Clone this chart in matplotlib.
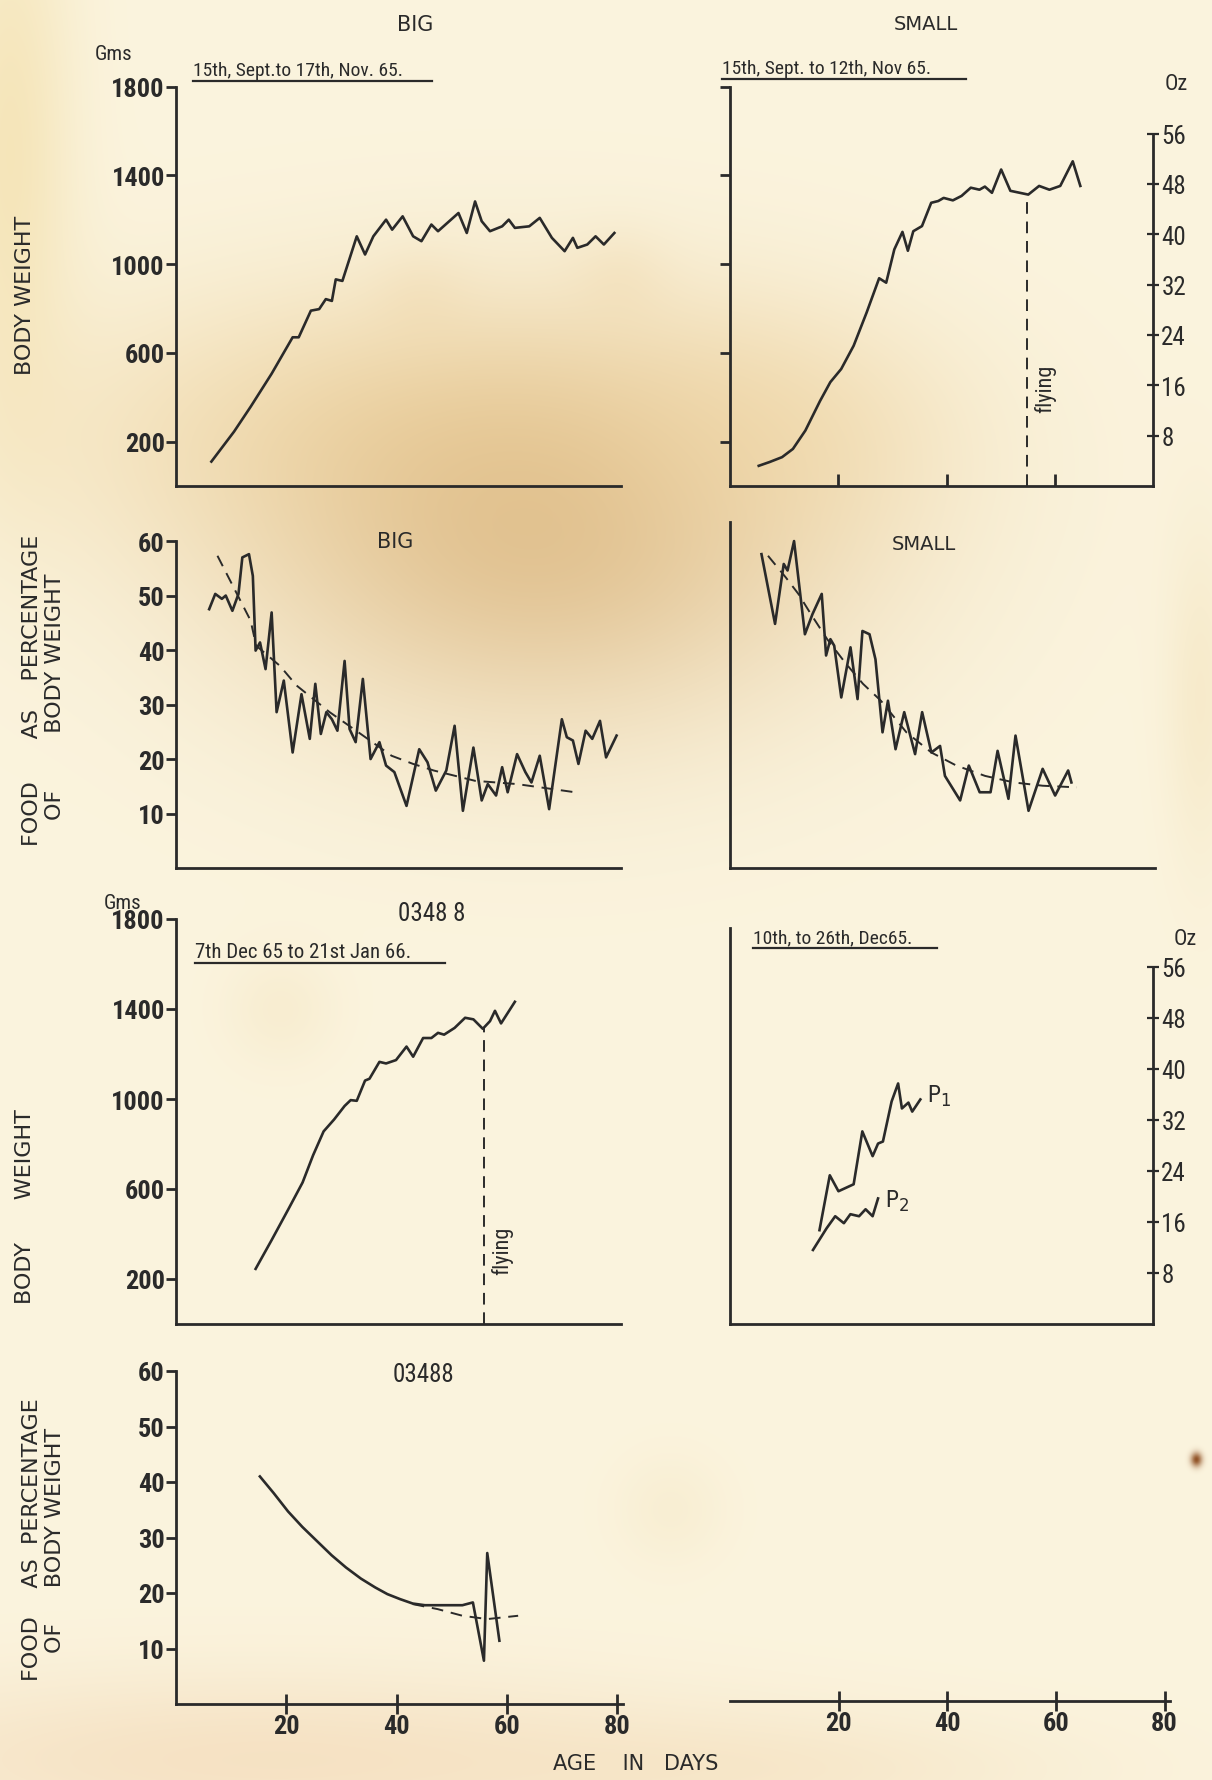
import numpy as np
import matplotlib
matplotlib.use("Agg")
import matplotlib.pyplot as plt
from matplotlib.lines import Line2D
from matplotlib import font_manager

# ---- data ----
# body weight, "big" chick (gms)
bw_big_day = [6.4, 10.5, 13.5, 17.3, 21.1, 22.2, 24.4, 25.9, 27.1, 28.2, 28.9, 30.1, 32.7, 34.2,
              35.7, 38.0, 39.1, 41.0, 42.9, 44.4, 46.2, 47.4, 51.1, 52.6, 54.1, 55.3, 56.8, 59.0,
              60.2, 61.3, 63.9, 65.8, 68.0, 70.3, 71.8, 72.6, 74.4, 75.9, 77.4, 79.3]
bw_big_g = [110, 245, 357, 506, 670, 670, 790, 797, 842, 834, 931, 924, 1125, 1043,
            1125, 1200, 1155, 1215, 1125, 1103, 1178, 1148, 1230, 1140, 1282, 1193, 1148, 1170,
            1200, 1163, 1170, 1208, 1118, 1058, 1118, 1073, 1088, 1125, 1088, 1140]

# body weight, "small" chick (gms)
bw_small_day = [5.3, 7.3, 9.6, 11.6, 13.9, 16.6, 18.5, 20.5, 22.8, 25.2, 27.5, 28.8, 30.3, 31.8,
                32.8, 33.8, 35.4, 37.1, 38.4, 39.4, 41.1, 42.7, 44.4, 46.0, 47.0, 48.3, 50.0,
                51.7, 55.0, 57.0, 58.9, 60.9, 63.2, 64.6]
bw_small_g = [91, 108, 130, 167, 250, 383, 468, 527, 632, 782, 936, 916, 1066, 1145,
              1060, 1148, 1171, 1276, 1284, 1298, 1287, 1307, 1344, 1335, 1349, 1321, 1426,
              1330, 1313, 1352, 1335, 1352, 1463, 1352]
flying_small = 54.8

# food as % of body weight, big
fd_big_day = [6.0, 7.1, 8.3, 9.0, 10.2, 11.3, 12.0, 13.2, 13.9, 14.4, 15.2, 16.2, 17.3, 18.2,
              19.5, 21.1, 22.7, 24.2, 25.2, 26.2, 27.2, 28.2, 29.2, 30.5, 31.4, 32.5, 33.8,
              35.2, 36.8, 38.0, 39.5, 41.7, 44.0, 45.5, 47.0, 48.9, 50.4, 51.9, 53.8, 55.3,
              56.4, 57.9, 59.0, 60.0, 61.7, 63.2, 64.3, 65.8, 67.5, 69.8, 70.7, 71.8, 72.8,
              74.1, 75.3, 76.7, 77.8, 79.7]
fd_big_pct = [47.5, 50.3, 49.4, 50.0, 47.2, 50.3, 57.0, 57.6, 53.6, 39.9, 41.4, 36.5, 46.9, 28.6,
              34.4, 21.2, 31.9, 23.7, 33.8, 24.6, 28.6, 27.3, 25.2, 38.0, 25.5, 23.1, 34.7,
              20.0, 23.1, 18.8, 17.6, 11.4, 21.8, 19.4, 14.2, 17.9, 26.1, 10.5, 22.1, 12.4,
              15.4, 13.3, 18.5, 13.9, 20.9, 17.6, 15.7, 20.6, 10.8, 27.3, 24.0, 23.4, 19.1,
              25.2, 23.7, 27.0, 20.3, 24.3]
fd_big_trend_day = [7.5, 13.5, 14.5, 18.8, 21.8, 27.8, 33.0, 39.0, 42.9, 46.6, 54.1, 61.7, 72.2]
fd_big_trend_pct = [57.3, 45.4, 40.8, 37.1, 33.5, 28.6, 24.9, 20.6, 19.1, 17.9, 16.0, 15.4, 13.9]

# food as % of body weight, small
fd_small_day = [5.8, 8.3, 9.9, 10.6, 11.8, 13.8, 15.2, 16.9, 17.7, 18.5, 19.2, 20.5, 22.2, 23.5,
                24.4, 25.7, 26.8, 28.1, 29.1, 30.5, 32.1, 34.1, 35.4, 37.1, 38.7, 39.6, 42.4,
                44.0, 46.0, 48.0, 49.3, 51.3, 52.6, 55.0, 57.6, 59.9, 62.3, 62.9]
fd_small_pct = [57.6, 44.8, 55.8, 54.6, 60.0, 42.9, 46.6, 50.3, 39.0, 42.0, 40.8, 31.3, 40.5, 31.0,
                43.5, 42.9, 38.3, 24.9, 30.7, 21.8, 28.6, 20.9, 28.6, 21.2, 22.4, 16.9, 12.4,
                18.8, 13.9, 13.9, 21.5, 12.7, 24.3, 10.5, 18.2, 13.3, 17.9, 15.7]
fd_small_trend_day = [7.0, 10.3, 12.6, 14.9, 17.9, 21.2, 24.5, 27.8, 32.5, 37.1, 41.7, 47.0,
                      52.3, 57.6, 63.9]
fd_small_trend_pct = [57.3, 53.3, 50.3, 46.6, 42.0, 37.7, 33.8, 30.7, 24.9, 21.2, 18.8, 16.9,
                      15.7, 15.1, 14.8]

# body weight, bird 03488 (gms)
bw_03488_day = [14.4, 17.3, 20.3, 22.9, 24.8, 26.7, 28.6, 30.5, 31.6, 32.7, 34.2, 35.0, 36.8,
                38.0, 39.8, 41.7, 42.9, 44.7, 46.2, 47.4, 48.5, 50.4, 52.3, 53.8, 55.5, 56.8,
                57.7, 58.8, 61.3]
bw_03488_g = [245, 373, 509, 629, 750, 856, 909, 969, 995, 992, 1082, 1090, 1165,
              1158, 1173, 1233, 1188, 1271, 1271, 1294, 1286, 1316, 1361, 1354, 1312, 1346,
              1392, 1336, 1432]
flying_03488 = 55.8

# P1 / P2 (gms)
p1_day = [16.5, 18.4, 20.0, 22.8, 24.4, 26.3, 27.3, 28.2, 29.8, 31.0, 31.7, 32.9, 33.6, 35.1]
p1_g = [417, 661, 590, 621, 856, 746, 802, 811, 989, 1069, 958, 984, 944, 998]
p2_day = [15.3, 17.8, 19.4, 21.0, 22.2, 23.8, 25.0, 26.3, 27.3]
p2_g = [329, 425, 479, 448, 488, 479, 510, 479, 558]

# food as % of body weight, 03488
fd_03488_day = [15.2, 17.7, 20.3, 22.9, 25.6, 28.2, 30.8, 33.5, 36.1, 38.3, 40.6, 42.9, 45.1,
                47.4, 51.9, 53.8, 55.8, 56.4, 58.6]
fd_03488_pct = [41.0, 38.0, 34.7, 31.9, 29.3, 26.8, 24.6, 22.6, 21.0, 19.8, 18.9, 18.1, 17.8,
                17.8, 17.8, 18.3, 7.8, 27.2, 11.4]
fd_03488_trend_day = [42.9, 47.4, 51.9, 56.4, 62.0]
fd_03488_trend_pct = [18.0, 17.1, 15.9, 15.3, 15.9]

g_ticks = [200, 600, 1000, 1400, 1800]
pct_ticks = [10, 20, 30, 40, 50, 60]
oz_ticks = [8, 16, 24, 32, 40, 48, 56]
day_ticks = [20, 40, 60, 80]

# ---- fonts ----
avail = {f.name for f in font_manager.fontManager.ttflist}
narrow = next((n for n in ["Liberation Sans Narrow", "DejaVu Sans Condensed", "Roboto Condensed"]
               if n in avail), None)
if narrow:
    NARROW = [narrow, "DejaVu Sans"]
    TS = 19
else:
    NARROW = ["Liberation Sans", "DejaVu Sans"]
    TS = 16.5
SANS = ["DejaVu Sans"]
plt.rcParams["font.family"] = NARROW

# ---- figure ----
W, H = 1212, 1781
INK = "#2a2a2a"
fig = plt.figure(figsize=(W / 100, H / 100), dpi=100)

# aged paper background
yy, xx = np.mgrid[0:H, 0:W]
img = np.ones((H, W, 3)) * np.array([251, 244, 222]) / 255


def stain(cx, cy, sx, sy, color, strength):
    w = strength * np.exp(-(((xx - cx) / sx) ** 2 + ((yy - cy) / sy) ** 2) / 2)
    img[:] = img * (1 - w[..., None]) + np.array(color) / 255 * w[..., None]


stain(420, 430, 280, 100, (238, 208, 150), 0.55)
stain(540, 545, 210, 135, (212, 170, 110), 0.62)
stain(780, 430, 110, 80, (240, 212, 160), 0.4)
stain(10, 150, 45, 200, (240, 215, 150), 0.5)
stain(420, 300, 35, 35, (240, 215, 170), 0.3)
stain(620, 280, 35, 35, (240, 215, 170), 0.3)
stain(280, 1010, 40, 40, (242, 222, 180), 0.3)
stain(670, 1510, 40, 40, (242, 222, 180), 0.25)
stain(250, 1760, 320, 60, (240, 205, 165), 0.45)
stain(760, 1770, 220, 40, (242, 215, 175), 0.35)
stain(1200, 700, 25, 120, (240, 218, 170), 0.35)
stain(1196, 1460, 4, 5, (140, 75, 30), 0.95)

ax_bg = fig.add_axes([0, 0, 1, 1], zorder=-5)
ax_bg.imshow(img, extent=[0, W, H, 0], aspect="auto")
ax_bg.axis("off")


def panel(x0, top, x1, bot, xmax, ymax, left=True):
    ax = fig.add_axes([x0 / W, 1 - bot / H, (x1 - x0) / W, (bot - top) / H])
    ax.set_xlim(0, xmax)
    ax.set_ylim(0, ymax)
    ax.patch.set_visible(False)
    for s in ["top", "right"]:
        ax.spines[s].set_visible(False)
    ax.spines["left"].set_visible(left)
    for s in ["left", "bottom"]:
        ax.spines[s].set_linewidth(2)
        ax.spines[s].set_color(INK)
    ax.set_xticks([])
    ax.set_yticks([])
    ax.tick_params(colors=INK, width=2, labelsize=TS, pad=1)
    return ax


def bold_ticks(ax):
    for t in ax.get_xticklabels() + ax.get_yticklabels():
        t.set_fontweight("bold")


def oz_axis(ax):
    sec = ax.secondary_yaxis("right", functions=(lambda g: g / 28.35, lambda o: o * 28.35))
    sec.spines["right"].set_bounds(0, 56)
    sec.spines["right"].set_linewidth(2)
    sec.spines["right"].set_color(INK)
    sec.set_yticks(oz_ticks)
    sec.tick_params(direction="inout", length=8, width=1.6, colors=INK, labelsize=TS - 1, pad=2)


def ftext(x, y, s, **kw):
    fig.text(x / W, 1 - y / H, s, color=INK, **kw)


def fline(x0, x1, y):
    fig.add_artist(Line2D([x0 / W, x1 / W], [1 - y / H] * 2, transform=fig.transFigure,
                          color=INK, lw=1.6))


lw = 1.9
dash = dict(color=INK, lw=1.4, dashes=(6, 4))
vdash = dict(color=INK, lw=1.4, linestyles=(0, (6, 4)))

# row 1 left: body weight big
ax = panel(176, 87.5, 621, 487, 80.5, 1800)
ax.set_yticks(g_ticks)
ax.tick_params(axis="y", direction="out", length=7)
bold_ticks(ax)
ax.plot(bw_big_day, bw_big_g, color=INK, lw=lw)

# row 1 right: body weight small
ax = panel(730, 87.5, 1153, 487, 78, 1800)
ax.set_yticks(g_ticks)
ax.set_yticklabels([])
ax.set_xticks(day_ticks[:3])
ax.set_xticklabels([])
ax.tick_params(axis="y", direction="out", length=7)
ax.tick_params(axis="x", direction="in", length=9)
ax.plot(bw_small_day, bw_small_g, color=INK, lw=lw)
ax.vlines(flying_small, 0, np.interp(flying_small, bw_small_day, bw_small_g), **vdash)
ax.text(flying_small + 1.2, 440, "flying", rotation=90, fontsize=16, color=INK,
        ha="left", va="center")
oz_axis(ax)

# row 2 left: food big
ax = panel(176, 523, 621, 869, 80.5, 63.5)
ax.spines["left"].set_bounds(0, 60)
ax.set_yticks(pct_ticks)
ax.tick_params(axis="y", direction="out", length=7)
bold_ticks(ax)
ax.plot(fd_big_day, fd_big_pct, color=INK, lw=lw)
ax.plot(fd_big_trend_day, fd_big_trend_pct, **dash)

# row 2 right: food small
ax = panel(730, 523, 1155, 869, 78.3, 63.5)
ax.plot(fd_small_day, fd_small_pct, color=INK, lw=lw)
ax.plot(fd_small_trend_day, fd_small_trend_pct, **dash)

# row 3 left: body weight 03488
ax = panel(176, 920, 621, 1325, 80.5, 1800)
ax.set_yticks(g_ticks)
ax.tick_params(axis="y", direction="out", length=7)
bold_ticks(ax)
ax.plot(bw_03488_day, bw_03488_g, color=INK, lw=lw)
ax.vlines(flying_03488, 0, np.interp(flying_03488, bw_03488_day, bw_03488_g), **vdash)
ax.text(flying_03488 + 1.3, 330, "flying", rotation=90, fontsize=16, color=INK,
        ha="left", va="center")

# row 3 right: P1 / P2
ax = panel(730, 920, 1153, 1325, 78, 1800)
ax.spines["left"].set_bounds(0, 1760)
ax.plot(p1_day, p1_g, color=INK, lw=lw)
ax.plot(p2_day, p2_g, color=INK, lw=lw)
ax.text(p1_day[-1] + 1.3, p1_g[-1] + 20, "P$_1$", fontsize=17, color=INK, va="center")
ax.text(p2_day[-1] + 1.3, p2_g[-1] - 10, "P$_2$", fontsize=17, color=INK, va="center")
oz_axis(ax)

# row 4 left: food 03488
ax = panel(176, 1372, 623, 1705, 81, 60)
ax.set_yticks(pct_ticks)
ax.set_xticks(day_ticks)
ax.tick_params(axis="y", direction="out", length=7)
ax.tick_params(axis="x", direction="inout", length=14, pad=0)
bold_ticks(ax)
ax.plot(fd_03488_day, fd_03488_pct, color=INK, lw=lw)
ax.plot(fd_03488_trend_day, fd_03488_trend_pct, **dash)

# row 4 right: bare age axis
ax = panel(730, 1372, 1170, 1702, 81, 60, left=False)
ax.set_xticks(day_ticks)
ax.tick_params(axis="x", direction="inout", length=14, pad=0)
bold_ticks(ax)

# ---- text ----
ftext(415, 25, "BIG", fontsize=15, family=SANS, ha="center", va="center")
ftext(926, 25, "SMALL", fontsize=14, family=SANS, ha="center", va="center")
ftext(395, 542, "BIG", fontsize=15, family=SANS, ha="center", va="center")
ftext(924, 545, "SMALL", fontsize=14, family=SANS, ha="center", va="center")
ftext(432, 914, "0348 8", fontsize=18, ha="center", va="center")
ftext(423, 1375, "03488", fontsize=18, ha="center", va="center")

ftext(114, 55, "Gms", fontsize=15, ha="center", va="center")
ftext(123, 904, "Gms", fontsize=15, ha="center", va="center")
ftext(1176, 84, "Oz", fontsize=16, ha="center", va="center")
ftext(1185, 940, "Oz", fontsize=16, ha="center", va="center")

ftext(193, 76, "15th, Sept.to 17th, Nov. 65.", fontsize=14, ha="left", va="baseline")
fline(193, 432, 82)
ftext(722, 74, "15th, Sept. to 12th, Nov 65.", fontsize=14, ha="left", va="baseline")
fline(722, 966, 80)
ftext(195, 958, "7th Dec 65 to 21st Jan 66.", fontsize=15, ha="left", va="baseline")
fline(195, 445, 964)
ftext(753, 943, "10th, to 26th, Dec65.", fontsize=14, ha="left", va="baseline")
fline(753, 937, 949)

ftext(25, 295, "BODY WEIGHT", fontsize=16, family=SANS, rotation=90, ha="center", va="center")
ftext(25, 1207, "BODY      WEIGHT", fontsize=16, family=SANS, rotation=90,
      ha="center", va="center")
ftext(32, 846, "FOOD      AS    PERCENTAGE", fontsize=16, family=SANS, rotation=90,
      ha="center", va="bottom")
ftext(55, 820, "OF        BODY WEIGHT", fontsize=16, family=SANS, rotation=90,
      ha="center", va="bottom")
ftext(32, 1681, "FOOD    AS  PERCENTAGE", fontsize=16, family=SANS, rotation=90,
      ha="center", va="bottom")
ftext(55, 1653, "OF     BODY WEIGHT", fontsize=16, family=SANS, rotation=90,
      ha="center", va="bottom")

ftext(636, 1764, "AGE    IN   DAYS", fontsize=15, family=SANS, ha="center", va="center")

fig.savefig("out.png", dpi=100)
